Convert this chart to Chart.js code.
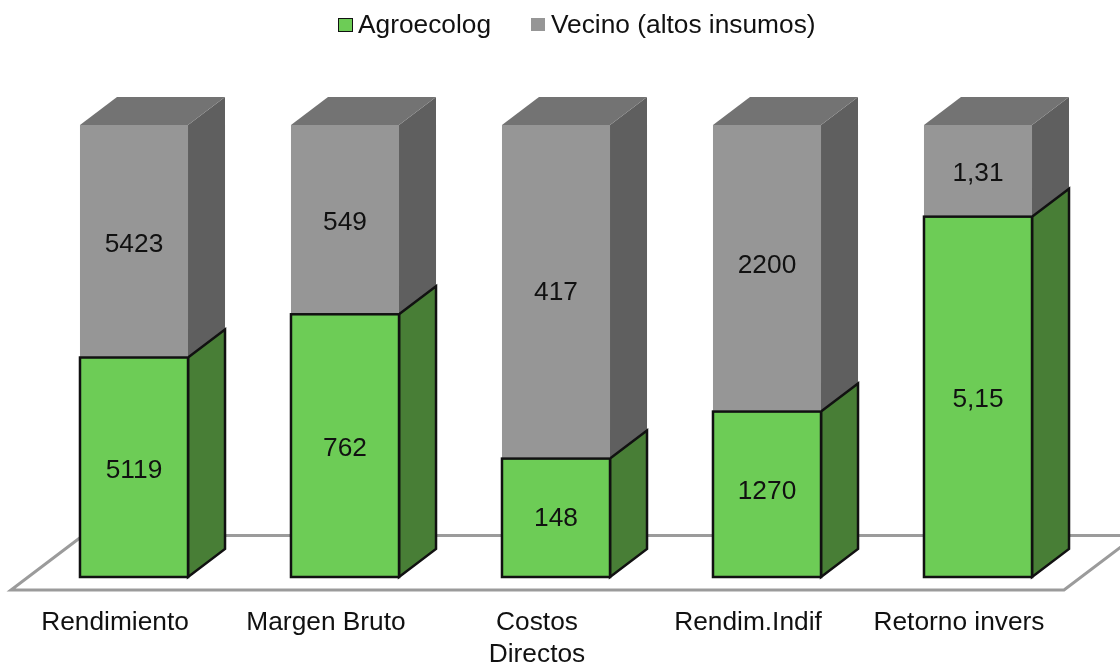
<!DOCTYPE html>
<html>
<head>
<meta charset="utf-8">
<style>
  html, body { margin: 0; padding: 0; background: #fff; }
  #wrap { width: 1120px; height: 664px; }
</style>
<script src="https://cdn.jsdelivr.net/npm/chart.js@4"></script>
</head>
<body>
<div id="wrap"><canvas id="chart" width="1120" height="664"></canvas></div>
<script>
const categories = ['Rendimiento', 'Margen Bruto', ['Costos', 'Directos'], 'Rendim.Indif', 'Retorno invers'];
const agroecolog = [5119, 762, 148, 1270, 5.15];
const vecino = [5423, 549, 417, 2200, 1.31];

// 100% stacked: the bars show each value's share, the labels show the value
const agroShare = agroecolog.map((v, i) => v / (v + vecino[i]) * 100);
const vecinoShare = vecino.map((v, i) => v / (v + agroecolog[i]) * 100);

const FONT = '"Liberation Sans", Arial, sans-serif';
const FONT_SIZE = 26.3;
const DEPTH_X = 37;
const DEPTH_Y = 28;
const OUTLINE = '#111';
// the value labels are not quite centred in the bars of these categories
const LABEL_NUDGE = [0, 0, -2, -5.5, 0];

function poly(ctx, pts, fill, stroke) {
    ctx.beginPath();
    pts.forEach((p, i) => i ? ctx.lineTo(p[0], p[1]) : ctx.moveTo(p[0], p[1]));
    ctx.closePath();
    ctx.fillStyle = fill;
    ctx.fill();
    if (stroke) {
        ctx.strokeStyle = stroke;
        ctx.lineWidth = 2.5;
        ctx.lineJoin = 'miter';
        ctx.stroke();
    }
}

// floor and the side/top faces of the boxes, drawn behind the bars
const box3d = {
    id: 'box3d',
    beforeDatasetsDraw(chart) {
        const ctx = chart.ctx;
        const area = chart.chartArea;
        const fl = area.left - 17.5, fr = area.right - 19.5, fy = area.bottom + 13;
        ctx.save();
        ctx.strokeStyle = '#9b9b9b';
        ctx.lineWidth = 3;
        ctx.beginPath();
        ctx.moveTo(fl + 72, fy - 54.5);
        ctx.lineTo(fl, fy);
        ctx.lineTo(fr, fy);
        ctx.lineTo(fr + 72, fy - 54.5);
        ctx.lineTo(fl + 72, fy - 54.5);
        ctx.stroke();

        const green = chart.getDatasetMeta(0).data;
        const gray = chart.getDatasetMeta(1).data;
        green.forEach((bar, i) => {
            const r = bar.x + bar.width / 2;
            const l = bar.x - bar.width / 2;
            const top = gray[i].y;
            const mid = bar.y;
            const base = bar.base;
            poly(ctx, [[r, top], [r + DEPTH_X, top - DEPTH_Y], [r + DEPTH_X, mid - DEPTH_Y], [r, mid]], '#5f5f5f');
            poly(ctx, [[l, top], [l + DEPTH_X, top - DEPTH_Y], [r + DEPTH_X, top - DEPTH_Y], [r, top]], '#737373');
            poly(ctx, [[r, mid], [r + DEPTH_X, mid - DEPTH_Y], [r + DEPTH_X, base - DEPTH_Y], [r, base]], '#487e36', OUTLINE);
        });
        ctx.restore();
    },
    afterDatasetsDraw(chart) {
        const ctx = chart.ctx;
        ctx.save();
        // green outline sits centred on the bar edge
        ctx.strokeStyle = OUTLINE;
        ctx.lineWidth = 2.5;
        chart.getDatasetMeta(0).data.forEach(bar => {
            ctx.strokeRect(bar.x - bar.width / 2, bar.y, bar.width, bar.base - bar.y);
        });
        ctx.font = FONT_SIZE + 'px ' + FONT;
        ctx.fillStyle = '#111';
        ctx.textAlign = 'center';
        ctx.textBaseline = 'middle';
        [agroecolog, vecino].forEach((values, d) => {
            chart.getDatasetMeta(d).data.forEach((bar, i) => {
                const txt = String(values[i]).replace('.', ',');
                ctx.fillText(txt, bar.x, (bar.y + bar.base) / 2 + 3 + LABEL_NUDGE[i]);
            });
        });
        ctx.restore();
    }
};

// legend gap between box and text is tighter than the built-in one allows
const legendRow = {
    id: 'legendRow',
    afterDraw(chart) {
        const ctx = chart.ctx;
        const boxes = [[339, 19], [531, 18]];
        ctx.save();
        ctx.font = FONT_SIZE + 'px ' + FONT;
        ctx.textBaseline = 'middle';
        chart.data.datasets.forEach((ds, i) => {
            const b = boxes[i];
            ctx.fillStyle = ds.backgroundColor;
            ctx.fillRect(b[0], b[1], 14, 13);
            if (i === 0) {
                ctx.strokeStyle = OUTLINE;
                ctx.lineWidth = 1;
                ctx.strokeRect(b[0] - 0.5, b[1] - 0.5, 14, 13);
            }
            ctx.fillStyle = '#111';
            ctx.fillText(ds.label, b[0] + (i === 0 ? 19 : 20), 26);
        });
        ctx.restore();
    }
};

new Chart(document.getElementById('chart'), {
    type: 'bar',
    data: {
        labels: categories,
        datasets: [
            { label: 'Agroecolog', data: agroShare, backgroundColor: '#6dcc56', borderWidth: 0 },
            { label: 'Vecino (altos insumos)', data: vecinoShare, backgroundColor: '#969696', borderWidth: 0 }
        ]
    },
    options: {
        responsive: false,
        animation: false,
        barPercentage: 0.512,
        categoryPercentage: 1,
        layout: { padding: { top: 125, left: 28.5, right: 36.5, bottom: 0 } },
        plugins: { legend: { display: false }, tooltip: { enabled: false } },
        scales: {
            x: {
                stacked: true,
                grid: { display: false },
                border: { display: false },
                afterFit(scale) { scale.height = 87; },
                ticks: {
                    color: '#111',
                    font: { family: FONT, size: FONT_SIZE },
                    padding: 22,
                    labelOffset: -19,
                    maxRotation: 0,
                    autoSkip: false
                }
            },
            y: { stacked: true, display: false, min: 0, max: 100 }
        }
    },
    plugins: [box3d, legendRow]
});
</script>
</body>
</html>
